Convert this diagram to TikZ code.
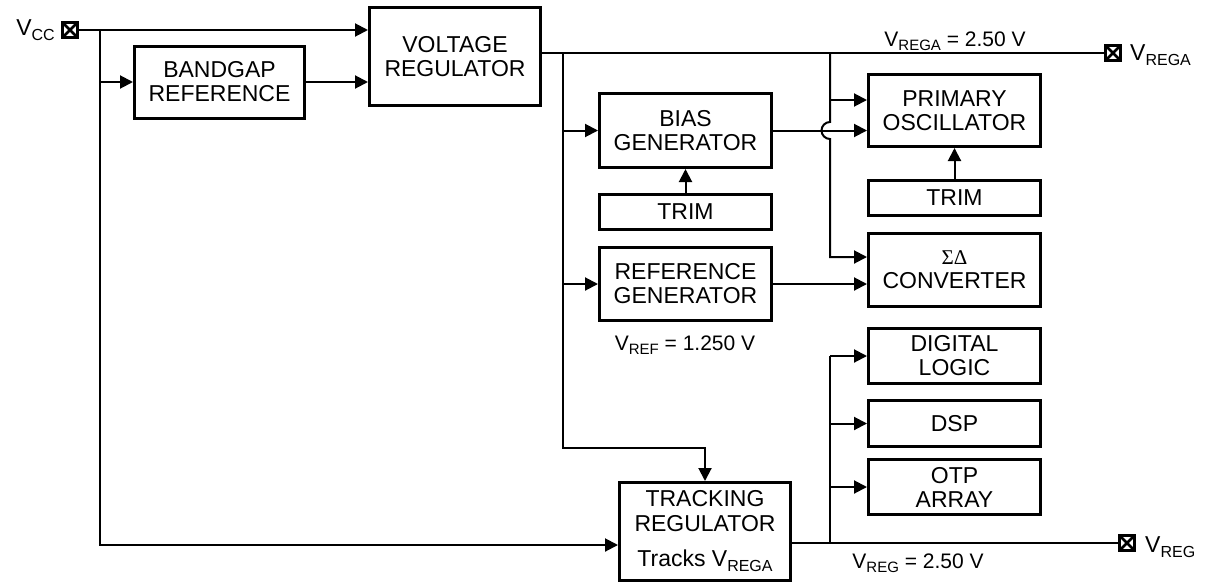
\documentclass[tikz,border=0pt]{standalone}
\usepackage{fontspec}
\setmainfont{Liberation Sans}
\newfontfamily\grkserif{Liberation Serif}
\usetikzlibrary{arrows.meta,calc}
\newcommand{\tsub}[1]{\raisebox{-5pt}{\fontsize{16}{16}\selectfont #1}}
\newcommand{\lsub}[1]{\raisebox{-4.5pt}{\fontsize{15}{15}\selectfont #1}}
\begin{document}
\begin{tikzpicture}[x=1pt,y=-1pt,
  box/.style={draw,line width=3pt,inner sep=0pt,minimum width=172pt,align=center,
    font=\fontsize{23}{24}\selectfont},
  wire/.style={line width=2pt},
  arr/.style={wire,-{Triangle[length=13pt,width=13pt]}},
  term/.style={draw,line width=3pt,minimum size=15pt,inner sep=0pt,
    path picture={\draw[line width=2.6pt] (path picture bounding box.north west) -- (path picture bounding box.south east)
      (path picture bounding box.north east) -- (path picture bounding box.south west);}},
  lbl/.style={font=\fontsize{21}{21}\selectfont,inner sep=0pt,anchor=base},
  tlbl/.style={font=\fontsize{23}{23}\selectfont,inner sep=0pt}]
\useasboundingbox (0,0) rectangle (1218,584);

% terminals
\node[term] (vcc) at (70,30) {};
\node[term] (vrega) at (1113,53) {};
\node[term] (vreg) at (1127,543) {};
\node[tlbl,anchor=base east] (vcclbl) at (55,35) {V\tsub{CC}};
\node[tlbl,anchor=base west] (vregalbl) at (1130,60) {V\tsub{REGA}};
\node[tlbl,anchor=base west] (vreglbl) at (1145,552) {V\tsub{REG}};

% boxes
\node[box,minimum width=170pt,minimum height=72pt] (bg) at (219.5,82) {BANDGAP\\REFERENCE};
\node[box,minimum width=171pt,minimum height=98pt] (vr) at (455,56.5) {VOLTAGE\\REGULATOR};
\node[box,minimum height=74pt] (bias) at (685.5,130.5) {BIAS\\GENERATOR};
\node[box,minimum height=35pt] (trim1) at (685.5,212) {TRIM};
\node[box,minimum height=73pt] (ref) at (685.5,284) {REFERENCE\\GENERATOR};
\node[box,minimum height=72pt] (posc) at (954.5,110.5) {PRIMARY\\OSCILLATOR};
\node[box,minimum height=35pt] (trim2) at (954.5,198) {TRIM};
\node[box,minimum height=73pt] (sd) at (954.5,270) {{\grkserif\fontsize{21}{21}\selectfont ΣΔ}\\CONVERTER};
\node[box,minimum height=55pt] (dl) at (954.5,356) {DIGITAL\\LOGIC};
\node[box,minimum height=46pt] (dsp) at (954.5,423.5) {DSP};
\node[box,minimum height=55pt] (otp) at (954.5,487) {OTP\\ARRAY};
\node[box,minimum width=171pt,minimum height=98pt,font=\fontsize{23}{25}\selectfont] (trk) at (705,531.5)
  {TRACKING\\REGULATOR\\[10pt]Tracks V\tsub{REGA}};

% labels
\node[lbl] (lrega) at (955,46) {V\lsub{REGA} = 2.50 V};
\node[lbl] (lref) at (685,350) {V\lsub{REF} = 1.250 V};
\node[lbl] (lreg) at (918,568) {V\lsub{REG} = 2.50 V};

% junction points
\coordinate (j1) at (100,30);
\coordinate (j2) at (563,53);
\coordinate (j3) at (830,53);
\coordinate (j4) at (830,543);

% VCC distribution
\draw[arr] (vcc.east) -- (vcc.east -| vr.west);
\draw[arr] (j1) |- (trk.west |- 0,545);
\draw[arr] (bg.west -| j1) -- (bg.west);
\draw[arr] (bg.east) -- (bg.east -| vr.west);

% VREGA rail
\draw[wire] (vr.east |- vrega) -- (vrega.west);
\draw[arr] (j2) |- (trk.north |- 0,448) -- (trk.north);
\draw[arr] (bias.west -| j2) -- (bias.west);
\draw[arr] (ref.west -| j2) -- (ref.west);
\draw[arr] (bias.east) -- (bias.east -| posc.west);
\draw[arr] (trim1.north) -- (bias.south);
\draw[arr] (j3) -- ($(j3 |- bias.east)+(0,-8.5)$) arc[start angle=90,end angle=270,radius=8.5pt]
  -- (j3 |- 0,257) -- (sd.west |- 0,257);
\draw[arr] (j3 |- 0,100) -- (posc.west |- 0,100);
\draw[arr] (ref.east) -- (ref.east -| sd.west);
\draw[arr] (trim2.north) -- (posc.south);

% VREG rail
\draw[wire] (trk.east |- vreg) -- (vreg.west);
\draw[wire] (j4) -- (j4 |- dl.west);
\draw[arr] (dl.west -| j4) -- (dl.west);
\draw[arr] (dsp.west -| j4) -- (dsp.west);
\draw[arr] (otp.west -| j4) -- (otp.west);
\end{tikzpicture}
\end{document}
